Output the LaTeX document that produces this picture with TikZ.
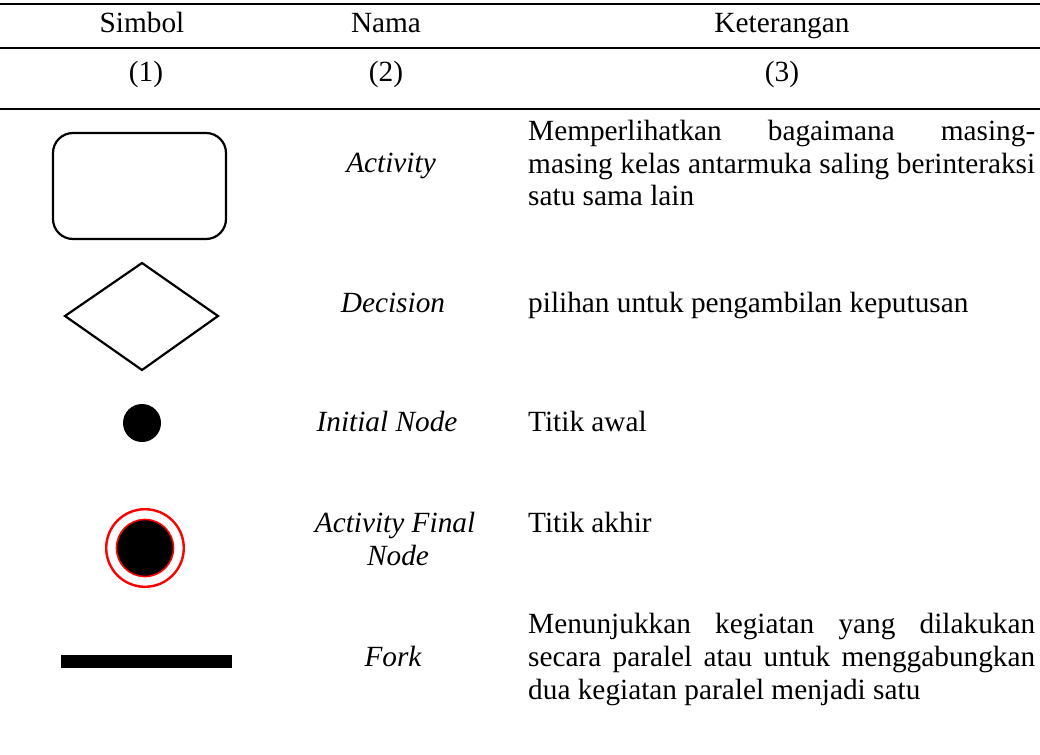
\documentclass[tikz,border=0pt]{standalone}
\usepackage{fontspec}
\setmainfont{Liberation Serif}
\begin{document}
\begin{tikzpicture}[x=1pt,y=-1pt,
  tablerule/.style={line width=2.6pt},
  symline/.style={line width=2.2pt, line join=round},
  txt/.style={inner sep=0pt, font=\fontsize{29.3}{33}\selectfont},
  hdr/.style={txt, anchor=base},
  nama/.style={txt, anchor=base, font=\fontsize{29.3}{33}\selectfont\itshape},
  ket/.style={txt, anchor=base west},
  ringred/.style={draw=red, line width=2.4pt}]
\useasboundingbox (0,0) rectangle (1040,754);

% rules of the table head
\draw[tablerule] (0,4) -- (1040,4);
\draw[tablerule] (0,48) -- (1040,48);
\draw[tablerule] (0,109) -- (1040,109);

% head
\node[hdr] (h1) at (142,33) {Simbol};
\node[hdr] (h2) at (386,33) {Nama};
\node[hdr] (h3) at (782,33) {Keterangan};
\node[hdr] (n1) at (146,82) {(1)};
\node[hdr] (n2) at (386,82) {(2)};
\node[hdr] (n3) at (782,82) {(3)};

% symbols
\draw[symline] (53,133) [rounded corners=20pt] rectangle (226,239);
\draw[symline, line join=miter] (142,263) -- (218,316) -- (142,370) -- (65,316) -- cycle;
\fill (142,423) circle (19);
\draw[ringred] (145,548) circle (38.8);
\fill[black] (145,548) circle (28.5);
\draw[red, line width=1.6pt] (145,548) circle (28.5);
\fill (61,655) rectangle (232,668);

% names
\node[nama] (a1) at (391,172) {Activity};
\node[nama] (a2) at (393,312) {Decision};
\node[nama] (a3) at (387,431) {Initial Node};
\node[nama] (a4) at (395,532) {Activity Final};
\node[nama] (a4b) at (398,565) {Node};
\node[nama] (a5) at (393,666) {Fork};

% descriptions
\node[ket] (k1a) at (528,141) {\makebox[507pt][s]{Memperlihatkan bagaimana masing-}};
\node[ket] (k1b) at (528,173) {\makebox[507pt][s]{masing kelas antarmuka saling berinteraksi}};
\node[ket] (k1c) at (528,205) {satu sama lain};
\node[ket] (k2) at (528,312) {pilihan untuk pengambilan keputusan};
\node[ket] (k3) at (528,431) {Titik awal};
\node[ket] (k4) at (528,532) {Titik akhir};
\node[ket] (k5a) at (528,633) {\makebox[507pt][s]{Menunjukkan kegiatan yang dilakukan}};
\node[ket] (k5b) at (528,666) {\makebox[507pt][s]{secara paralel atau untuk menggabungkan}};
\node[ket] (k5c) at (528,699) {dua kegiatan paralel menjadi satu};
\end{tikzpicture}
\end{document}
